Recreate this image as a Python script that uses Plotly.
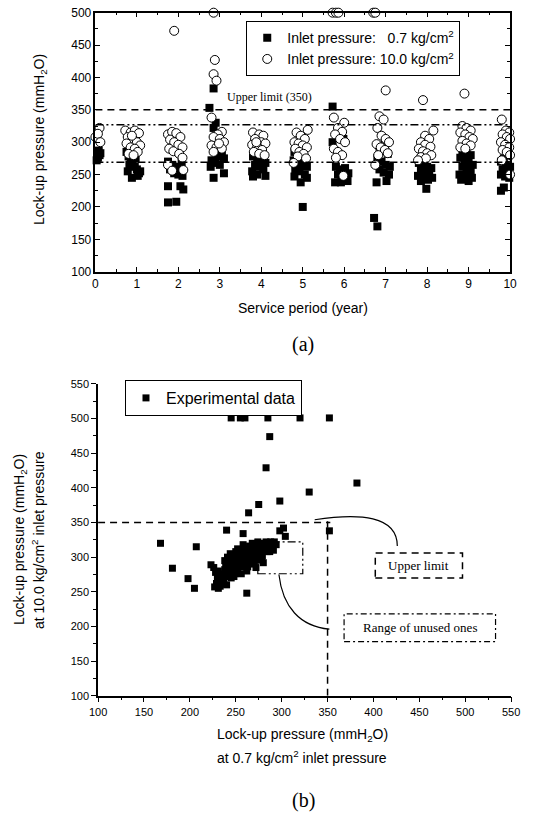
import plotly.graph_objects as go

# ---------------- (a) data: service period vs lock-up pressure ----------------
sq_x = [0.03, 0.06, 0.10, 0.04, 0.08, 0.12, 0.05,
        0.75, 0.80, 0.85, 0.90, 0.95, 1.00, 1.05, 0.78, 0.88, 1.02, 1.08, 0.97, 0.82,
        1.75, 1.85, 1.95, 2.05, 1.80, 1.90, 2.00, 2.10, 2.08, 1.75, 2.05, 2.12, 1.75, 1.95,
        2.85, 2.75, 2.90, 2.85, 3.05, 2.95, 3.10, 2.80, 2.90, 3.00, 2.78, 3.10, 2.85, 3.02,
        3.80, 3.90, 4.00, 4.10, 3.85, 3.95, 4.05, 3.78, 3.90, 4.10, 3.80, 4.00,
        4.80, 4.90, 5.00, 4.78, 4.88, 4.98, 5.10, 4.82, 4.92, 5.05, 4.80, 5.10, 4.95, 5.00,
        5.72, 5.72, 5.98, 5.80, 5.90, 6.00, 6.10, 5.85, 5.95, 6.05, 5.78, 5.92, 6.08, 6.02,
        6.98, 6.85, 6.95, 7.05, 6.80, 6.90, 7.00, 7.10, 6.85, 6.95, 7.08, 6.78, 7.02, 6.72, 6.80,
        7.80, 7.90, 8.00, 8.10, 7.85, 7.95, 8.05, 7.78, 7.90, 8.02, 8.12, 7.85, 7.98,
        8.85, 8.95, 9.05, 8.80, 8.90, 9.00, 9.10, 8.85, 8.95, 9.05, 8.78, 8.92, 9.08, 8.82, 9.00,
        9.95, 10.02, 9.85, 9.78, 9.90, 10.00, 9.82, 9.92, 10.02, 9.78, 9.88, 9.98, 9.85, 9.78]
sq_y = [272, 276, 280, 284, 287, 283, 278,
        285, 278, 272, 268, 262, 258, 252, 255, 245, 248, 255, 275, 265,
        270, 265, 262, 258, 258, 252, 250, 248, 268, 232, 232, 227, 207, 208,
        383, 353, 330, 322, 285, 280, 275, 272, 268, 265, 262, 252, 245, 278,
        278, 275, 270, 268, 265, 262, 258, 255, 250, 248, 247, 282,
        285, 280, 276, 272, 268, 265, 262, 258, 255, 250, 247, 245, 238, 200,
        355, 300, 305, 262, 258, 255, 252, 250, 245, 242, 238, 238, 240, 260,
        300, 293, 288, 282, 275, 270, 265, 262, 258, 253, 250, 238, 240, 183, 170,
        268, 265, 262, 260, 257, 253, 250, 248, 244, 242, 245, 240, 228,
        285, 282, 280, 276, 272, 268, 265, 262, 258, 255, 250, 247, 245, 242, 240,
        282, 278, 275, 270, 265, 262, 258, 255, 252, 250, 247, 245, 230, 225]

ci_x = [0.00, 0.10, 0.06, 0.12,
        0.72, 0.85, 0.95, 1.05, 0.78, 0.90, 1.00, 1.08, 0.75, 0.85, 0.95, 1.02, 0.80, 0.92, 0.88,
        1.90, 1.75, 1.85, 1.95, 2.05, 1.80, 1.90, 2.00, 2.10, 1.78, 1.88, 2.02, 2.10, 1.75, 1.85, 2.12,
        2.85, 2.88, 2.85, 2.92, 2.80, 3.05, 2.95, 2.85, 3.00, 3.10, 2.80, 2.92, 3.05, 2.85, 2.98,
        3.80, 3.95, 4.05, 3.85, 4.00, 4.10, 3.78, 3.90, 4.02, 3.82, 3.95, 4.08, 3.88,
        5.12, 4.85, 4.95, 5.05, 4.80, 4.90, 5.00, 5.10, 4.82, 4.92, 5.02, 4.88, 5.08, 4.78,
        5.72, 5.80, 5.86, 5.75, 6.00, 5.85, 5.95, 5.78, 5.90, 6.02, 5.75, 5.85, 5.95, 5.80, 5.98,
        6.70, 6.75, 7.00, 6.85, 6.95, 6.80, 6.90, 7.00, 7.08, 6.78, 6.88, 6.98, 7.05, 6.82, 6.75,
        7.90, 8.15, 7.95, 8.05, 7.85, 7.95, 8.08, 7.80, 7.90, 8.00, 8.10, 7.85, 7.97, 7.78,
        8.90, 8.85, 8.95, 9.05, 8.80, 8.92, 9.02, 9.10, 8.85, 8.95, 9.05, 8.80, 8.92,
        9.80, 9.90, 9.98, 9.82, 9.92, 10.00, 9.78, 9.88, 9.98, 9.82, 9.92, 10.00, 9.80, 10.00]
ci_y = [308, 322, 313, 300,
        318, 315, 318, 314, 308, 305, 300, 295, 298, 292, 290, 285, 282, 280, 310,
        472, 312, 316, 314, 308, 304, 300, 296, 292, 290, 286, 282, 276, 265, 256, 257,
        500, 427, 405, 395, 338, 316, 312, 308, 305, 300, 295, 292, 290, 285, 298,
        315, 312, 310, 305, 300, 298, 296, 292, 288, 285, 282, 280, 300,
        319, 315, 310, 305, 300, 298, 295, 292, 290, 285, 282, 278, 275, 268,
        500, 500, 500, 338, 330, 322, 316, 312, 305, 300, 290, 285, 280, 276, 248,
        500, 500, 380, 340, 335, 322, 310, 305, 300, 297, 292, 288, 283, 280, 265,
        365, 318, 310, 305, 300, 296, 293, 290, 286, 283, 280, 277, 275, 272,
        375, 325, 322, 318, 315, 312, 308, 305, 302, 298, 295, 292, 290,
        335, 318, 315, 312, 308, 305, 300, 296, 292, 288, 285, 280, 272, 250]

upper_limit = 350
unused_hi = 327
unused_lo = 269

# ---------------- (b) data: 0.7 vs 10.0 kg/cm2 lock-up pressure ----------------
b_x = [245, 255, 260, 285, 320, 352,
       287, 283, 382, 330, 298, 275, 264,
       352, 240, 258, 298, 302, 304,
       168, 181, 207, 198, 205, 262, 227, 231, 223,
       226, 228, 230, 232, 234, 233, 229, 231, 235, 236,
       237, 238, 239, 240, 241, 242, 243, 244, 245, 240, 238, 244,
       246, 247, 248, 249, 250, 251, 252, 253, 254, 255, 248, 250, 252, 254, 246,
       256, 257, 258, 259, 260, 261, 262, 263, 264, 265, 258, 260, 262, 264, 256,
       266, 267, 268, 269, 270, 271, 272, 273, 274, 275, 268, 270, 272, 274,
       276, 277, 278, 279, 280, 281, 282, 283, 284, 285, 278, 280,
       286, 288, 290, 292, 289, 291, 287, 294]
b_y = [501, 501, 501, 501, 501, 501,
       474, 429, 407, 394, 381, 376, 364,
       338, 339, 334, 338, 342, 330,
       320, 284, 315, 269, 255, 248, 257, 255, 289,
       285, 278, 272, 266, 262, 258, 262, 280, 270, 276,
       265, 282, 290, 272, 300, 286, 278, 294, 270, 260, 295, 305,
       284, 292, 298, 276, 288, 304, 282, 296, 290, 310, 272, 308, 312, 300, 302,
       286, 298, 305, 292, 300, 312, 296, 286, 305, 316, 318, 288, 280, 292, 276,
       300, 308, 295, 312, 304, 318, 300, 310, 296, 315, 320, 290, 285, 322,
       306, 312, 318, 302, 320, 310, 316, 322, 308, 318, 296, 292,
       320, 322, 318, 322, 314, 310, 308, 318]

SANS = "Liberation Sans, Arial, sans-serif"
SERIF = "Liberation Serif, Times New Roman, serif"
NB = "\u00a0"

fig = go.Figure()

fig.add_trace(go.Scatter(
    x=sq_x, y=sq_y, mode="markers", xaxis="x", yaxis="y", cliponaxis=False,
    marker=dict(symbol="square", size=8, color="black"),
    name="Inlet pressure:" + NB * 3 + "0.7 kg/cm<sup>2</sup>", legend="legend"))
fig.add_trace(go.Scatter(
    x=ci_x, y=ci_y, mode="markers", xaxis="x", yaxis="y", cliponaxis=False,
    marker=dict(symbol="circle", size=9, color="white", line=dict(color="black", width=1)),
    name="Inlet pressure: 10.0 kg/cm<sup>2</sup>", legend="legend"))
fig.add_trace(go.Scatter(
    x=b_x, y=b_y, mode="markers", xaxis="x2", yaxis="y2", cliponaxis=False,
    marker=dict(symbol="square", size=7, color="black"),
    name="Experimental data", legend="legend2"))

axis_common = dict(showline=True, linecolor="black", linewidth=1.5, showgrid=False,
                   zeroline=False, ticks="inside", tickcolor="black", ticklen=5,
                   automargin=False,
                   tickfont=dict(family=SANS, size=12, color="black"))

fig.update_layout(
    width=533, height=813, margin=dict(l=0, r=0, t=0, b=0, autoexpand=False),
    paper_bgcolor="white", plot_bgcolor="white",
    font=dict(family=SANS, color="black"),
    xaxis=dict(axis_common, domain=[0.179, 0.957], range=[0, 10], dtick=1, anchor="y",
               mirror="allticks", minor=dict(dtick=0.5, ticks="inside", ticklen=3, tickcolor="black")),
    yaxis=dict(axis_common, domain=[0.6658, 0.9844], range=[100, 500], dtick=50, anchor="x",
               mirror="allticks", minor=dict(dtick=25, ticks="inside", ticklen=3, tickcolor="black")),
    xaxis2=dict(axis_common, domain=[0.184, 0.959], range=[100, 550], dtick=50, anchor="y2",
                ticks="outside", tickfont=dict(family=SANS, size=11, color="black"),
                minor=dict(dtick=25, ticks="outside", ticklen=3, tickcolor="black")),
    yaxis2=dict(axis_common, domain=[0.1443, 0.5277], range=[100, 550], dtick=50, anchor="x2",
                ticks="outside", tickfont=dict(family=SANS, size=11, color="black"),
                minor=dict(dtick=25, ticks="outside", ticklen=3, tickcolor="black")),
    legend=dict(x=0.462, y=0.974, xanchor="left", yanchor="top", bgcolor="white",
                bordercolor="black", borderwidth=1, font=dict(family=SANS, size=14),
                itemwidth=30, tracegroupgap=0),
    legend2=dict(x=0.2345, y=0.5326, xanchor="left", yanchor="top", bgcolor="white",
                 bordercolor="black", borderwidth=1, font=dict(family=SANS, size=16),
                 itemwidth=30),
)

DASH = "7px,5px"
DDOT = "8px,3px,2px,3px,2px,3px"
DDOT2 = "6px,3px,2px,3px"

shapes = [
    dict(type="line", xref="x", yref="y", x0=0, x1=10, y0=upper_limit, y1=upper_limit,
         line=dict(color="black", width=1.5, dash=DASH)),
    dict(type="line", xref="x", yref="y", x0=0, x1=10, y0=unused_hi, y1=unused_hi,
         line=dict(color="black", width=1.5, dash=DDOT)),
    dict(type="line", xref="x", yref="y", x0=0, x1=10, y0=unused_lo, y1=unused_lo,
         line=dict(color="black", width=1.5, dash=DDOT)),
    dict(type="line", xref="x2", yref="y2", x0=100, x1=353, y0=upper_limit, y1=upper_limit,
         line=dict(color="black", width=1.5, dash=DASH)),
    dict(type="line", xref="x2", yref="y2", x0=upper_limit, x1=upper_limit, y0=100, y1=352,
         line=dict(color="black", width=1.5, dash=DASH)),
    dict(type="rect", xref="x2", yref="y2", x0=274, x1=323, y0=276, y1=322,
         line=dict(color="black", width=1.2, dash=DDOT)),
    dict(type="rect", xref="x2", yref="y2", x0=402, x1=497, y0=270, y1=306,
         line=dict(color="black", width=1.5, dash=DASH)),
    dict(type="rect", xref="x2", yref="y2", x0=368, x1=533, y0=178, y1=218,
         line=dict(color="black", width=1.2, dash=DDOT2)),
    dict(type="path", xref="x2", yref="y2", path="M 336,354 C 385,364 426,360 426,316",
         line=dict(color="black", width=1.2)),
    dict(type="path", xref="x2", yref="y2", path="M 297,275 C 301,228 320,200 352,196",
         line=dict(color="black", width=1.2)),
]
fig.update_layout(shapes=shapes)


def pa(text, xp, yp, size, family=SANS, angle=0):
    return dict(text=text, xref="paper", yref="paper", x=xp / 533, y=1 - yp / 813,
                xanchor="center", yanchor="middle", textangle=angle, showarrow=False,
                font=dict(family=family, size=size, color="black"))


ann = [
    dict(text="Upper limit (350)", xref="x", yref="y", x=4.21, y=370, showarrow=False,
         xanchor="center", yanchor="middle", font=dict(family=SERIF, size=12)),
    pa("Service period (year)", 303, 308, 14),
    pa("Lock-up pressure (mmH<sub>2</sub>O)", 40, 140, 14, angle=-90),
    pa("(a)", 303, 344, 20, family=SERIF),
    pa("Lock-up pressure (mmH<sub>2</sub>O)", 302, 735, 14),
    pa("at 0.7 kg/cm<sup>2</sup> inlet pressure", 302, 757, 14),
    pa("Lock-up pressure (mmH<sub>2</sub>O)", 20, 540, 14, angle=-90),
    pa("at 10.0 kg/cm<sup>2</sup> inlet pressure", 38, 540, 14, angle=-90),
    dict(text="Upper limit", xref="x2", yref="y2", x=449.5, y=288, showarrow=False,
         xanchor="center", yanchor="middle", font=dict(family=SERIF, size=13)),
    dict(text="Range of unused ones", xref="x2", yref="y2", x=450.5, y=198, showarrow=False,
         xanchor="center", yanchor="middle", font=dict(family=SERIF, size=13)),
    pa("(b)", 303, 800, 20, family=SERIF),
]
fig.update_layout(annotations=ann)

fig.write_html("out.html")
